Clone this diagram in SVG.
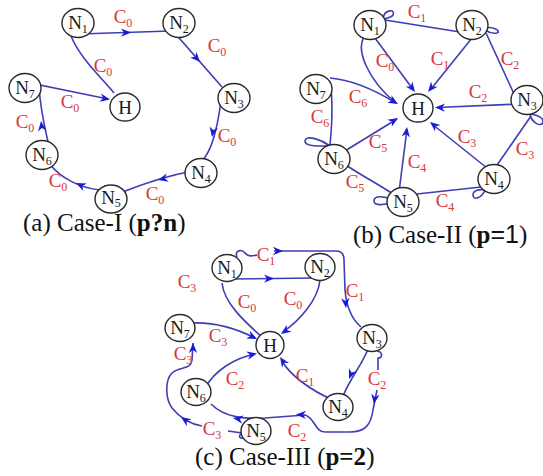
<svg xmlns="http://www.w3.org/2000/svg" xmlns:xlink="http://www.w3.org/1999/xlink" width="543" height="476" viewBox="0 0 543 476">
<style>
.nd{fill:#fff;stroke:#2a2a2a;stroke-width:1.4}
.nt{font-size:19px;fill:#1a1a1a;text-anchor:middle}
.ns{font-size:12px}
.ln{fill:none;stroke:#3d3db8;stroke-width:1.6}
.ar{fill:#1c1cd6}
.lb{font-size:19px;fill:#d4383c;text-anchor:middle}
.ls{font-size:12px}
.cap{font-size:25px;fill:#111}
</style>
<defs>
<path id="ah" d="M0,0 L-10,-4.2 L-7,0 L-10,4.2 Z"/>
</defs>
<rect width="543" height="476" fill="#fff"/>
<g font-family="Liberation Serif, Times New Roman, DejaVu Serif, serif">

<!-- ===== Panel (a) ===== -->
<g id="conn-a">
<path class="ln" d="M70,35 C73,31 77,31 80,34 L170,31"/>
<use xlink:href="#ah" class="ar" transform="translate(131,32.4) rotate(-1)"/>
<path class="ln" d="M71,36 C80,58 100,76 114,93"/>
<path class="ln" d="M173,31 L222,87"/>
<use xlink:href="#ah" class="ar" transform="translate(200,62) rotate(48)"/>
<path class="ln" d="M221,101 C217,130 212,150 202,161"/>
<use xlink:href="#ah" class="ar" transform="translate(212,137) rotate(100)"/>
<path class="ln" d="M193,171 C165,176 140,185 120,193"/>
<use xlink:href="#ah" class="ar" transform="translate(158,180) rotate(166)"/>
<path class="ln" d="M100,190 C80,188 60,178 49,163"/>
<use xlink:href="#ah" class="ar" transform="translate(76,183) rotate(205)"/>
<path class="ln" d="M49,146 C44,125 40,105 39,86"/>
<use xlink:href="#ah" class="ar" transform="translate(41,121) rotate(-97)"/>
<path class="ln" d="M37,87 C35,83 39,82 40,85 L108,99"/>
<use xlink:href="#ah" class="ar" transform="translate(110,99.5) rotate(11)"/>
</g>
<g id="a-N1"><ellipse class="nd" cx="78" cy="23" rx="16" ry="14.5"/><text class="nt" x="78" y="29">N<tspan class="ns" dy="4">1</tspan></text></g>
<g id="a-N2"><ellipse class="nd" cx="179" cy="23" rx="16" ry="14.5"/><text class="nt" x="179" y="29">N<tspan class="ns" dy="4">2</tspan></text></g>
<g id="a-N3"><ellipse class="nd" cx="234" cy="98" rx="16" ry="14.5"/><text class="nt" x="234" y="104">N<tspan class="ns" dy="4">3</tspan></text></g>
<g id="a-N4"><ellipse class="nd" cx="201" cy="173" rx="16" ry="14.5"/><text class="nt" x="201" y="179">N<tspan class="ns" dy="4">4</tspan></text></g>
<g id="a-N5"><ellipse class="nd" cx="111" cy="199" rx="16" ry="14"/><text class="nt" x="111" y="204">N<tspan class="ns" dy="3">5</tspan></text></g>
<g id="a-N6"><ellipse class="nd" cx="42" cy="155" rx="16" ry="14.5"/><text class="nt" x="42" y="161">N<tspan class="ns" dy="4">6</tspan></text></g>
<g id="a-N7"><ellipse class="nd" cx="25" cy="88" rx="16" ry="14.5"/><text class="nt" x="25" y="94">N<tspan class="ns" dy="4">7</tspan></text></g>
<g id="a-H"><ellipse class="nd" cx="125" cy="107" rx="15" ry="14"/><text class="nt" x="125" y="114">H</text></g>
<g id="a-labels">
<text class="lb" x="123" y="23">C<tspan class="ls" dy="4">0</tspan></text>
<text class="lb" x="217" y="52">C<tspan class="ls" dy="4">0</tspan></text>
<text class="lb" x="103" y="72">C<tspan class="ls" dy="4">0</tspan></text>
<text class="lb" x="70" y="108">C<tspan class="ls" dy="4">0</tspan></text>
<text class="lb" x="25" y="128">C<tspan class="ls" dy="4">0</tspan></text>
<text class="lb" x="227" y="142">C<tspan class="ls" dy="4">0</tspan></text>
<text class="lb" x="58" y="187">C<tspan class="ls" dy="4">0</tspan></text>
<text class="lb" x="155" y="200">C<tspan class="ls" dy="4">0</tspan></text>
</g>
<text class="cap" x="23" y="231">(a) Case-I (<tspan font-weight="bold">p?n</tspan>)</text>

<!-- ===== Panel (b) ===== -->
<g id="conn-b">
<path class="ln" d="M385,20 L460,32"/>
<path class="ln" d="M383,18 C385,9 396,9 393,15 C391,18 387,18 383,19"/>
<path class="ln" d="M486,28 C492,26 502,31 497,33 C492,34 488,32 485,30"/>
<path class="ln" d="M372,34 L412,88"/>
<use xlink:href="#ah" class="ar" transform="translate(415,92) rotate(53)"/>
<path class="ln" d="M367,33 C352,48 370,82 396,103"/>
<path class="ln" d="M472,38 L431,89"/>
<use xlink:href="#ah" class="ar" transform="translate(428,92) rotate(129)"/>
<path class="ln" d="M486,33 L515,96"/>
<path class="ln" d="M520,104 L437,107.5"/>
<use xlink:href="#ah" class="ar" transform="translate(435,107.5) rotate(181)"/>
<path class="ln" d="M530,114 C532,124 543,128 543,121 C543,117 536,115 531,114"/>
<path class="ln" d="M531,116 L495,168"/>
<path class="ln" d="M487,168 L432,124"/>
<use xlink:href="#ah" class="ar" transform="translate(430,122) rotate(219)"/>
<path class="ln" d="M485,190 C482,198 473,201 473,195 C473,190 480,189 485,190"/>
<path class="ln" d="M481,187 L417,194"/>
<path class="ln" d="M399,192 L407,129"/>
<use xlink:href="#ah" class="ar" transform="translate(407,127) rotate(-83)"/>
<path class="ln" d="M391,200 C385,196 374,195 374,201 C374,206 383,205 390,203"/>
<path class="ln" d="M340,154 L397,119"/>
<use xlink:href="#ah" class="ar" transform="translate(398,118) rotate(-32)"/>
<path class="ln" d="M343,163 C360,175 380,185 396,196"/>
<path class="ln" d="M330,146 C322,140 306,134 305,141 C305,147 320,146 330,146"/>
<path class="ln" d="M330,145 C332,125 333,100 330,82"/>
<path class="ln" d="M330,78 C355,80 378,92 396,103"/>
<use xlink:href="#ah" class="ar" transform="translate(398,104) rotate(30)"/>
</g>
<g id="b-N1"><ellipse class="nd" cx="370" cy="25" rx="16" ry="14.5"/><text class="nt" x="370" y="31">N<tspan class="ns" dy="4">1</tspan></text></g>
<g id="b-N2"><ellipse class="nd" cx="472" cy="25" rx="16" ry="14.5"/><text class="nt" x="472" y="31">N<tspan class="ns" dy="4">2</tspan></text></g>
<g id="b-N3"><ellipse class="nd" cx="527" cy="100" rx="16" ry="14.5"/><text class="nt" x="527" y="106">N<tspan class="ns" dy="4">3</tspan></text></g>
<g id="b-N4"><ellipse class="nd" cx="494" cy="179" rx="16" ry="14.5"/><text class="nt" x="494" y="185">N<tspan class="ns" dy="4">4</tspan></text></g>
<g id="b-N5"><ellipse class="nd" cx="403" cy="202" rx="16" ry="14.5"/><text class="nt" x="403" y="208">N<tspan class="ns" dy="4">5</tspan></text></g>
<g id="b-N6"><ellipse class="nd" cx="334" cy="159" rx="16" ry="14.5"/><text class="nt" x="334" y="165">N<tspan class="ns" dy="4">6</tspan></text></g>
<g id="b-N7"><ellipse class="nd" cx="316" cy="89" rx="16" ry="14.5"/><text class="nt" x="316" y="95">N<tspan class="ns" dy="4">7</tspan></text></g>
<g id="b-H"><ellipse class="nd" cx="418" cy="108" rx="15" ry="14"/><text class="nt" x="418" y="115">H</text></g>
<g id="b-labels">
<text class="lb" x="417" y="18">C<tspan class="ls" dy="4">1</tspan></text>
<text class="lb" x="385" y="67">C<tspan class="ls" dy="4">0</tspan></text>
<text class="lb" x="440" y="65">C<tspan class="ls" dy="4">1</tspan></text>
<text class="lb" x="510" y="65">C<tspan class="ls" dy="4">2</tspan></text>
<text class="lb" x="358" y="103">C<tspan class="ls" dy="4">6</tspan></text>
<text class="lb" x="478" y="98">C<tspan class="ls" dy="4">2</tspan></text>
<text class="lb" x="320" y="123">C<tspan class="ls" dy="4">6</tspan></text>
<text class="lb" x="467" y="143">C<tspan class="ls" dy="4">3</tspan></text>
<text class="lb" x="378" y="148">C<tspan class="ls" dy="4">5</tspan></text>
<text class="lb" x="525" y="155">C<tspan class="ls" dy="4">3</tspan></text>
<text class="lb" x="417" y="168">C<tspan class="ls" dy="4">4</tspan></text>
<text class="lb" x="355" y="188">C<tspan class="ls" dy="4">5</tspan></text>
<text class="lb" x="445" y="207">C<tspan class="ls" dy="4">4</tspan></text>
</g>
<text class="cap" x="353" y="243">(b) Case-II (<tspan font-weight="bold">p</tspan><tspan font-family="Liberation Sans, Arial, sans-serif">=1</tspan>)</text>

<!-- ===== Panel (c) ===== -->
<g id="conn-c">
<path class="ln" d="M224,281 C227,277 231,277 235,279 L314,278"/>
<use xlink:href="#ah" class="ar" transform="translate(274,278.5) rotate(-1)"/>
<path class="ln" d="M222,283 C224,303 245,322 262,337"/>
<path class="ln" d="M320,280 C318,300 300,320 283,332"/>
<use xlink:href="#ah" class="ar" transform="translate(281,334) rotate(145)"/>
<path class="ln" d="M237,257 C234,250 242,249 245,253 C248,257 252,256 257,255"/>
<path class="ln" d="M274,251 L336,251 Q344,251 344,260 L345,290 Q347,315 361,327"/>
<use xlink:href="#ah" class="ar" transform="translate(283,251) rotate(0)"/>
<use xlink:href="#ah" class="ar" transform="translate(346,308) rotate(86)"/>
<path class="ln" d="M368,349 C362,365 352,375 343,396"/>
<use xlink:href="#ah" class="ar" transform="translate(349,379) rotate(112)"/>
<path class="ln" d="M377,351 C383,352 383,358 378,358 L378,370"/>
<path class="ln" d="M377,390 L373,410 C371,425 365,432 350,432 L325,432 C315,432 315,418 305,415 L265,418 C245,419 225,418 211,404"/>
<use xlink:href="#ah" class="ar" transform="translate(374,404) rotate(98)"/>
<use xlink:href="#ah" class="ar" transform="translate(296,414.5) rotate(182)"/>
<use xlink:href="#ah" class="ar" transform="translate(233,418) rotate(190)"/>
<path class="ln" d="M333,400 C310,390 290,375 282,361"/>
<use xlink:href="#ah" class="ar" transform="translate(280,357) rotate(236)"/>
<path class="ln" d="M205,388 C215,370 235,358 255,354"/>
<use xlink:href="#ah" class="ar" transform="translate(257,353.5) rotate(-12)"/>
<path class="ln" d="M192,323 C215,322 235,328 255,338"/>
<use xlink:href="#ah" class="ar" transform="translate(257,339) rotate(26)"/>
<path class="ln" d="M248,435 C242,441 236,437 242,433 L228,431"/>
<path class="ln" d="M202,426 C190,424 180,418 172,408 C165,398 165,380 172,373 C180,366 191,370 192,360 L193,343"/>
<use xlink:href="#ah" class="ar" transform="translate(181,417) rotate(215)"/>
<use xlink:href="#ah" class="ar" transform="translate(193,343) rotate(-90)"/>
</g>
<g id="c-N1"><ellipse class="nd" cx="227" cy="268" rx="15" ry="13.5"/><text class="nt" x="227" y="274">N<tspan class="ns" dy="4">1</tspan></text></g>
<g id="c-N2"><ellipse class="nd" cx="320" cy="267" rx="15" ry="13.5"/><text class="nt" x="320" y="273">N<tspan class="ns" dy="4">2</tspan></text></g>
<g id="c-N3"><ellipse class="nd" cx="372" cy="338" rx="15" ry="13.5"/><text class="nt" x="372" y="344">N<tspan class="ns" dy="4">3</tspan></text></g>
<g id="c-N4"><ellipse class="nd" cx="338" cy="407" rx="15" ry="13.5"/><text class="nt" x="338" y="413">N<tspan class="ns" dy="4">4</tspan></text></g>
<g id="c-N5"><ellipse class="nd" cx="256" cy="431" rx="15" ry="13.5"/><text class="nt" x="256" y="437">N<tspan class="ns" dy="4">5</tspan></text></g>
<g id="c-N6"><ellipse class="nd" cx="196" cy="392" rx="15" ry="13.5"/><text class="nt" x="196" y="398">N<tspan class="ns" dy="4">6</tspan></text></g>
<g id="c-N7"><ellipse class="nd" cx="180" cy="328" rx="15" ry="13.5"/><text class="nt" x="180" y="334">N<tspan class="ns" dy="4">7</tspan></text></g>
<g id="c-H"><ellipse class="nd" cx="270" cy="345" rx="14" ry="13.5"/><text class="nt" x="270" y="352">H</text></g>
<g id="c-labels">
<text class="lb" x="266" y="261">C<tspan class="ls" dy="4">1</tspan></text>
<text class="lb" x="187" y="288">C<tspan class="ls" dy="4">3</tspan></text>
<text class="lb" x="247" y="308">C<tspan class="ls" dy="4">0</tspan></text>
<text class="lb" x="293" y="305">C<tspan class="ls" dy="4">0</tspan></text>
<text class="lb" x="355" y="297">C<tspan class="ls" dy="4">1</tspan></text>
<text class="lb" x="218" y="342">C<tspan class="ls" dy="4">3</tspan></text>
<text class="lb" x="183" y="360">C<tspan class="ls" dy="4">3</tspan></text>
<text class="lb" x="235" y="385">C<tspan class="ls" dy="4">2</tspan></text>
<text class="lb" x="305" y="382">C<tspan class="ls" dy="4">1</tspan></text>
<text class="lb" x="377" y="385">C<tspan class="ls" dy="4">2</tspan></text>
<text class="lb" x="212" y="435">C<tspan class="ls" dy="4">3</tspan></text>
<text class="lb" x="297" y="437">C<tspan class="ls" dy="4">2</tspan></text>
</g>
<text class="cap" x="195" y="465">(c) Case-III (<tspan font-weight="bold">p=2</tspan>)</text>
</g>
</svg>
